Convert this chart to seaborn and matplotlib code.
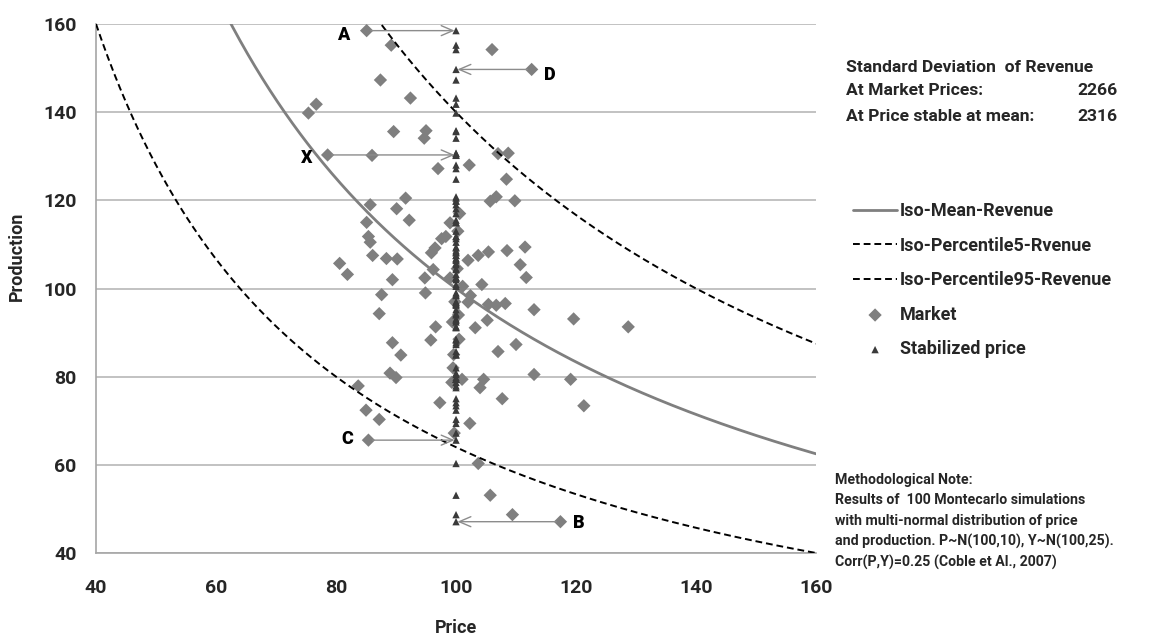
import matplotlib
matplotlib.use("Agg")
import matplotlib.pyplot as plt
import numpy as np
import pandas as pd
import seaborn as sns

# Prix et production des 100 simulations
price = [85.1, 89.2, 106.0, 112.6, 87.4, 92.4, 76.7, 75.4, 89.6, 95.0,
         94.7, 78.6, 86.0, 97.0, 102.2, 107.0, 108.7, 108.4, 91.6, 85.7,
         90.1, 105.7, 106.7, 109.8, 85.1, 92.2, 99.0, 98.3, 97.6, 85.4,
         85.7, 96.5, 95.9, 86.1, 88.4, 90.2, 80.6, 81.9, 102.0, 103.7,
         105.4, 108.5, 111.5, 110.7, 111.7, 96.2, 94.8, 89.4, 99.0, 101.1,
         104.3, 94.9, 87.6, 102.4, 102.0, 105.4, 106.7, 108.2, 113.0, 87.2,
         105.2, 99.4, 96.6, 103.2, 95.8, 89.4, 110.0, 107.0, 90.8, 89.0,
         90.0, 113.0, 83.7, 99.3, 101.0, 104.6, 104.0, 107.7, 97.3, 85.0,
         87.2, 102.3, 99.7, 85.4, 103.7, 105.7, 109.4, 117.4, 119.6, 128.7,
         119.1, 121.3, 100.3, 99.8, 100.5, 99.6, 100.2, 100.6, 99.5, 100.4]
production = [158.5, 155.2, 154.2, 149.7, 147.3, 143.2, 141.8, 139.8, 135.6, 135.8,
              134.1, 130.3, 130.2, 127.2, 128.0, 130.6, 130.7, 124.8, 120.5, 119.0,
              118.1, 119.8, 120.8, 119.9, 115.0, 115.5, 114.9, 111.8, 111.3, 111.8,
              110.5, 109.2, 108.1, 107.5, 106.8, 106.7, 105.7, 103.2, 106.4, 107.5,
              108.3, 108.6, 109.4, 105.4, 102.5, 104.3, 102.4, 102.0, 102.4, 100.5,
              100.9, 99.0, 98.6, 98.4, 96.9, 96.4, 96.2, 96.6, 95.2, 94.3,
              92.8, 92.4, 91.3, 91.1, 88.3, 87.7, 87.3, 85.7, 84.9, 80.8,
              79.8, 80.5, 77.9, 78.7, 79.4, 79.4, 77.5, 75.0, 74.1, 72.4,
              70.3, 69.4, 67.2, 65.6, 60.3, 53.1, 48.7, 47.1, 93.1, 91.3,
              79.4, 73.4, 113.0, 97.0, 88.5, 85.0, 104.5, 117.0, 82.0, 94.0]
stable_price = 100

# Courbes iso-revenu : P * Y = R
rev_levels = [10000, 6400, 14000]
rev_names = ["Iso-Mean-Revenue", "Iso-Percentile5-Rvenue", "Iso-Percentile95-Revenue"]

# Points annotés (index dans les listes)
label_names = ["A", "D", "X", "C", "B"]
label_idx = [0, 3, 11, 83, 87]

sd_market = 2266
sd_stable = 2316

sns.set_theme(style="white")
plt.rcParams['font.family'] = ['Roboto', 'DejaVu Sans']
plt.rcParams['font.weight'] = 'bold'

fig = plt.figure(figsize=(11.5, 6.39), dpi=100)
ax = fig.add_axes([0.0835, 0.1346, 0.6261, 0.8278])

df = pd.DataFrame({"Price": price, "Production": production})
df["Stable"] = stable_price

p_grid = np.linspace(40, 160, 481)
styles = [dict(color="#7f7f7f", lw=2.0, ls="-"),
          dict(color="black", lw=1.4, ls=(0, (3.5, 2))),
          dict(color="black", lw=1.4, ls=(0, (3.5, 2)))]
for r, name, st in zip(rev_levels, rev_names, styles):
    courbe = pd.DataFrame({"P": p_grid, "Y": r / p_grid})
    sns.lineplot(data=courbe, x="P", y="Y", ax=ax, label=name, color=st["color"],
                 linewidth=st["lw"], linestyle=st["ls"], zorder=3)

sns.scatterplot(data=df, x="Price", y="Production", ax=ax, marker="D", s=46,
                color="#7f7f7f", edgecolor="none", label="Market", zorder=2)
sns.scatterplot(data=df, x="Stable", y="Production", ax=ax, marker="^", s=28,
                color="#3a3a3a", edgecolor="none", label="Stabilized price", zorder=4)

# flèches et lettres
offsets = [(-17, -3), (13, -4), (-15, -2), (-15, 1), (13, -1)]
for nom, i, off in zip(label_names, label_idx, offsets):
    x0, y0 = price[i], production[i]
    ax.annotate("", xy=(stable_price, y0), xytext=(x0, y0),
                arrowprops=dict(arrowstyle="->,head_length=0.7,head_width=0.3",
                                color="#8c8c8c", lw=1.0, shrinkA=3, shrinkB=1), zorder=5)
    ax.annotate(nom, xy=(x0, y0), xytext=off, textcoords="offset points",
                ha="center", va="center", fontsize=13, fontweight="heavy", color="black")

ax.set_xlim(40, 160)
ax.set_ylim(40, 160)
ax.set_xticks(range(40, 161, 20))
ax.set_yticks(range(40, 161, 20))
ax.yaxis.grid(True, color="#bdbdbd", lw=1.3)
ax.xaxis.grid(False)
for s in ["top", "right"]:
    ax.spines[s].set_visible(False)
for s in ["left", "bottom"]:
    ax.spines[s].set_color("#a6a6a6")
    ax.spines[s].set_linewidth(1.2)
ax.tick_params(axis="both", direction="out", length=5, width=1, color="#a6a6a6",
               labelsize=14)
ax.tick_params(axis="x", pad=14)
ax.tick_params(axis="y", pad=9)
for t in ax.get_xticklabels() + ax.get_yticklabels():
    t.set_fontweight("bold")
ax.set_xlabel("Price", fontsize=13, fontweight="bold")
ax.set_ylabel("Production", fontsize=13, fontweight="bold")
ax.xaxis.set_label_coords(0.5, -0.125)
ax.yaxis.set_label_coords(-0.097, 0.56)

handles, labels = ax.get_legend_handles_labels()
ax.legend(handles, labels, loc="upper left", bbox_to_anchor=(0.7417, 0.684),
          bbox_transform=fig.transFigure, frameon=False, borderpad=0, borderaxespad=0,
          handlelength=2.45, handletextpad=0.15, labelspacing=0.92,
          prop=dict(size=13, weight="bold"))

# encadré écart-type
fs = 12.6
fig.text(0.7357, 0.895, "Standard Deviation  of Revenue", fontsize=fs, fontweight="bold", va="center")
fig.text(0.7357, 0.858, "At Market Prices:", fontsize=fs, fontweight="bold", va="center")
fig.text(0.7357, 0.818, "At Price stable at mean:", fontsize=fs, fontweight="bold", va="center")
fig.text(0.9365, 0.858, str(sd_market), fontsize=fs, fontweight="bold", va="center")
fig.text(0.9365, 0.818, str(sd_stable), fontsize=fs, fontweight="bold", va="center")

note = ["Methodological Note:",
        "Results of  100 Montecarlo simulations",
        "with multi-normal distribution of price",
        "and production. P~N(100,10), Y~N(100,25).",
        "Corr(P,Y)=0.25 (Coble et Al., 2007)"]
for k, ligne in enumerate(note):
    fig.text(0.726, 1 - (480 + 20.5 * k) / 639, ligne, fontsize=10.2,
             fontweight="bold", va="center")

fig.savefig("out.png", dpi=100)
